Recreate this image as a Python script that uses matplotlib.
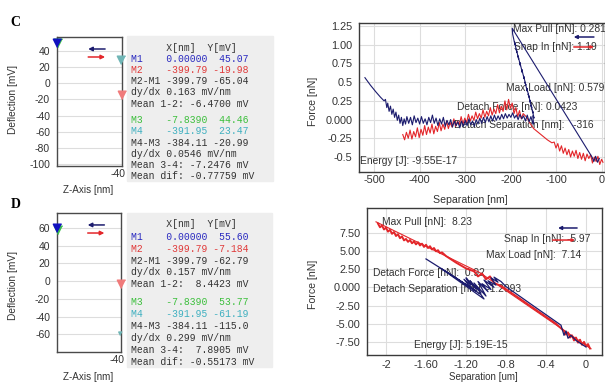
"""AFM deflection / force-separation panels C and D."""

import matplotlib
import matplotlib.pyplot as plt
from matplotlib.patches import Rectangle

matplotlib.use("Agg")
plt.rcParams["font.family"] = ["Liberation Sans", "DejaVu Sans"]

W, H = 605, 383
NAVY = "#1c1c6e"
RED = "#e3262a"
TXT = "#333333"
GRID = "#dddddd"
SPINE = "#4a4a4a"

# ---- left panels: cursor markers (x in nm, y in mV) ----
c_marker_x = [-7.839, -391.95, -399.79, 0.0]
c_marker_y = [44.46, 23.47, -19.98, 45.07]
d_marker_x = [-7.839, -391.95, -399.79, 0.0]
d_marker_y = [53.77, -61.19, -7.184, 55.60]
marker_colors = ["#3fbf4f", "#6fb5b5", "#f07a7a", "#1010c0"]

c_defl_ticks = [40, 20, 0, -20, -40, -60, -80, -100]
d_defl_ticks = [60, 40, 20, 0, -20, -40, -60]

c_table = [
    "      X[nm]  Y[mV]",
    "M1    0.00000  45.07",
    "M2    -399.79 -19.98",
    "M2-M1 -399.79 -65.04",
    "dy/dx 0.163 mV/nm",
    "Mean 1-2: -6.4700 mV",
    "M3    -7.8390  44.46",
    "M4    -391.95  23.47",
    "M4-M3 -384.11 -20.99",
    "dy/dx 0.0546 mV/nm",
    "Mean 3-4: -7.2476 mV",
    "Mean dif: -0.77759 mV",
]
d_table = [
    "      X[nm]  Y[mV]",
    "M1    0.00000  55.60",
    "M2    -399.79 -7.184",
    "M2-M1 -399.79 -62.79",
    "dy/dx 0.157 mV/nm",
    "Mean 1-2:  8.4423 mV",
    "M3    -7.8390  53.77",
    "M4    -391.95 -61.19",
    "M4-M3 -384.11 -115.0",
    "dy/dx 0.299 mV/nm",
    "Mean 3-4:  7.8905 mV",
    "Mean dif: -0.55173 mV",
]
table_colors = [TXT, "#2a2ac0", "#e03a3a", TXT, TXT, TXT,
                "#3cbf3c", "#3fb0c0", TXT, TXT, TXT, TXT]

# ---- panel C force curves (separation nm, force nN) ----
c_blue_x = [
    -520, -508, -496, -486, -478,
    -475, -472, -470, -467, -464, -461, -458, -455, -452, -449, -446, -443,
    -440, -437, -434, -431,
    -428, -424, -420, -416, -412, -408, -404, -400, -396, -392, -388, -384,
    -380, -376, -372, -368, -364, -360, -356, -352, -348, -344, -340, -336,
    -332, -328, -324, -320, -316, -312, -308, -304, -300, -296, -292, -288,
    -284, -280, -276, -272, -268, -264, -260, -256, -252, -248, -244, -240,
    -236, -232, -228, -224, -220, -216, -212, -208, -204, -200, -196, -192,
    -188, -184, -180, -176, -172, -168, -164, -160, -156, -152,
    -150, -152, -149, -153, -151, -156, -154, -159, -157, -162, -160, -165,
    -164, -169, -167, -172, -171, -176, -175, -180, -179, -184, -183, -188,
    -187, -192, -191, -196, -197,
    -22, -18, -14, -10, -6,
]
c_blue_y = [
    0.56, 0.46, 0.37, 0.30, 0.25,
    0.27, 0.16, 0.22, 0.11, 0.18, 0.07, 0.14, 0.03, 0.10, -0.01, 0.06, -0.05,
    0.03, -0.08, 0.01, -0.06,
    0.04, -0.05, 0.03, -0.07, 0.05, -0.04, 0.02, -0.06, 0.04, -0.05, 0.01, -0.07,
    0.03, -0.04, 0.06, -0.05, 0.02, -0.08, 0.01, -0.06, 0.03, -0.09, -0.01, -0.07,
    0.00, -0.10, -0.02, -0.08, -0.03, -0.11, -0.02, -0.09, -0.01, -0.08, 0.01, -0.07,
    -0.02, -0.09, 0.00, -0.06, 0.02, -0.05, 0.03, -0.04, 0.04, -0.03, 0.05, -0.02,
    0.06, -0.01, 0.05, 0.00, 0.07, 0.01, 0.08, 0.02, 0.07, 0.03, 0.09, 0.02,
    0.06, 0.00, 0.07, 0.01, 0.05, -0.02, 0.06, -0.03, 0.04, -0.05,
    -0.06, 0.05, 0.02, 0.12, 0.09, 0.19, 0.16, 0.26, 0.23, 0.34, 0.30, 0.42,
    0.38, 0.50, 0.46, 0.58, 0.55, 0.67, 0.63, 0.76, 0.72, 0.85, 0.81, 0.94,
    0.90, 1.04, 1.00, 1.14, 1.22,
    -0.50, -0.56, -0.49, -0.57, -0.52,
]
c_red_x = [
    -437, -433, -429, -425, -421, -417, -413, -409, -405, -401, -397, -393,
    -389, -385, -381, -377, -373, -369, -365, -361, -357, -353, -349, -345,
    -341, -337, -333, -329, -325, -321, -317, -313, -309, -305, -301, -297,
    -293, -289, -285, -281, -277, -273, -269, -265, -261, -257, -253, -249,
    -245, -241, -237, -233, -229, -225, -221, -217, -213, -209, -205, -201,
    -197, -193, -189, -185, -181, -177, -173,
    -165, -158, -150, -140, -130, -120, -110,
    -105, -101, -97, -93, -89, -85, -81, -77, -73, -69, -65, -61, -57, -53,
    -49, -45, -41, -37, -33, -29, -25, -21, -17, -13, -9, -5, -1, 2,
]
c_red_y = [
    -0.20, -0.27, -0.17, -0.25, -0.14, -0.26, -0.16, -0.23, -0.11, -0.24, -0.13, -0.21,
    -0.08, -0.20, -0.10, -0.18, -0.06, -0.19, -0.09, -0.16, -0.04, -0.15, -0.06, -0.13,
    -0.02, -0.12, -0.04, -0.10, 0.01, -0.09, -0.02, -0.07, 0.04, -0.06, 0.02, -0.04,
    0.07, -0.02, 0.05, -0.01, 0.10, 0.01, 0.08, 0.02, 0.13, 0.03, 0.11, 0.05,
    0.16, 0.06, 0.14, 0.08, 0.20, 0.09, 0.18, 0.11, 0.25, 0.13, 0.27, 0.15,
    0.22, 0.08, 0.16, 0.04, 0.12, 0.01, 0.08,
    0.03, -0.05, -0.12, -0.17, -0.22, -0.27, -0.31,
    -0.30, -0.38, -0.32, -0.42, -0.35, -0.45, -0.38, -0.47, -0.40, -0.50, -0.42, -0.49,
    -0.41, -0.52, -0.44, -0.53, -0.45, -0.55, -0.46, -0.52, -0.47, -0.58, -0.50, -0.56,
    -0.49, -0.60, -0.53, -0.57,
]
c_sep_ticks = [-500, -400, -300, -200, -100, 0]
c_force_ticks = [1.25, 1.00, 0.75, 0.5, 0.25, 0.0, -0.25, -0.5]
c_force_labels = ["1.25", "1.00", "0.75", "0.5", "0.25", "0.000", "-0.25", "-0.5"]

# ---- panel D force curves (separation um, force nN) ----
d_red_x = [
    -2.08, -2.06, -2.04, -2.02, -2.00, -1.98, -1.96, -1.94, -1.92, -1.90,
    -1.88, -1.86, -1.84, -1.82, -1.80, -1.78, -1.76, -1.74, -1.72, -1.70,
    -1.68, -1.66, -1.64, -1.62, -1.60, -1.58, -1.56, -1.54, -1.52, -1.50,
    -1.48, -1.46, -1.44,
    -1.40, -1.30, -1.20, -1.12, -1.08, -1.04, -1.00, -0.96, -0.92, -0.85,
    -0.70, -0.50, -0.30, -0.22,
    -0.20, -0.18, -0.16, -0.14, -0.12, -0.10, -0.08, -0.06, -0.04, -0.02,
    0.00, 0.02, 0.04,
]
d_red_y = [
    8.75, 8.25, 8.5, 7.95, 8.2, 7.65, 7.9, 7.35, 7.6, 7.05,
    7.3, 6.75, 7.0, 6.45, 6.65, 6.25, 6.5, 6.05, 6.3, 5.9,
    6.2, 5.75, 6.0, 5.55, 5.85, 5.4, 5.65, 5.2, 5.4, 4.95,
    5.1, 4.7, 4.8,
    4.3, 3.4, 2.6, 2.2, 1.5, 1.9, 1.1, 1.5, 0.6, 0.2,
    -1.2, -3.1, -5.0, -6.0,
    -6.5, -6.2, -6.9, -6.6, -7.3, -6.9, -7.6, -7.2, -7.9, -7.5,
    -8.1, -7.8, -8.4,
]
d_red_line_x = [-2.10, -1.06, 0.05]
d_red_line_y = [9.0, 2.0, -8.45]
d_blue_x = [
    -1.60, -1.30, -1.05, -1.02, -1.45, -1.10, -1.18, -1.22, -1.15, -1.20,
    -1.10, -1.16, -1.05, -1.12, -1.00, -1.08, -0.98, -1.04, -0.95, -1.02,
    -0.92, -0.98, -0.90, -0.95, -0.88, -0.92, -0.85, -0.80,
    -0.50, -0.25, -0.22, -0.20, -0.18, -0.15, -0.10, 0.00,
]
d_blue_y = [
    3.9, 1.3, -1.0, -1.6, 2.6, -0.5, 0.4, 1.1, 0.3, 1.3,
    -0.2, 0.9, -0.8, 0.6, -1.2, 0.8, -0.6, 0.5, -0.3, 1.0,
    0.0, 0.9, 0.3, 1.3, 0.7, 1.4, 0.8, 0.1,
    -2.8, -5.2, -6.6, -6.0, -7.0, -6.6, -7.3, -8.2,
]
d_sep_ticks = [-2.0, -1.6, -1.2, -0.8, -0.4, 0.0]
d_sep_labels = ["-2", "-1.60", "-1.20", "-0.8", "-0.4", "0"]
d_force_ticks = [7.5, 5.0, 2.5, 0.0, -2.5, -5.0, -7.5]
d_force_labels = ["7.50", "5.00", "2.50", "0.000", "-2.50", "-5.00", "-7.50"]

c_notes = [
    ("Max Pull [nN]: 0.281", 0.624, 0.960),
    ("Snap In [nN]: 1.19", 0.629, 0.839),
    ("Max Load [nN]: 0.579", 0.596, 0.564),
    ("Detach Force [nN]: 0.0423", 0.400, 0.436),
    ("Detach Separation [nm]:   -316", 0.385, 0.315),
    ("Energy [J]: -9.55E-17", 0.003, 0.074),
]
d_notes = [
    ("Max Pull [nN]:  8.23", 0.064, 0.905),
    ("Snap In [nN]: -5.97", 0.583, 0.789),
    ("Max Load [nN]:  7.14", 0.506, 0.680),
    ("Detach Force [nN]:  0.92", 0.026, 0.558),
    ("Detach Separation [nm]: -1.2093", 0.026, 0.449),
    ("Energy [J]: 5.19E-15", 0.200, 0.068),
]

# triangle whose tip sits on the data point
TIP = [(0, 0), (-0.6, 1.2), (0.6, 1.2)]


def rect(left, top, right, bottom):
    return [left / W, 1 - bottom / H, (right - left) / W, (bottom - top) / H]


def style_spines(ax, color=SPINE):
    for s in ax.spines.values():
        s.set_color(color)
        s.set_linewidth(1.0)


def arrow(ax, x0, x1, y, color, ms=6):
    ax.annotate("", xy=(x1, y), xytext=(x0, y), xycoords="axes fraction",
                arrowprops=dict(arrowstyle="-|>", color=color, lw=1.1,
                                mutation_scale=ms, shrinkA=0, shrinkB=0))


def deflection_panel(fig, box, ylim, ticks, mx, my, arrow_y, sizes):
    ax = fig.add_axes(rect(*box))
    ax.set_xlim(0, -400)
    ax.set_ylim(*ylim)
    ax.set_xticks([])
    ax.set_yticks(ticks)
    ax.set_yticklabels([str(t) for t in ticks])
    ax.tick_params(axis="y", length=0, pad=5, labelsize=7.5, labelcolor=TXT)
    ax.grid(True, axis="y", color=GRID, lw=0.8)
    ax.set_axisbelow(True)
    style_spines(ax)
    for x, y, c, s in zip(mx, my, marker_colors, sizes):
        ax.plot([x], [y], marker=TIP, ms=s, color=c, ls="none",
                clip_on=False, zorder=5)
    arrow(ax, 0.74, 0.48, arrow_y[0], NAVY)
    arrow(ax, 0.48, 0.74, arrow_y[1], RED)
    ax.text(1.06, -0.06, "-40", transform=ax.transAxes, ha="right",
            va="center", fontsize=7.5, color=TXT)
    return ax


def table(fig, box, rows, ys):
    l, t, r, b = box
    fig.patches.append(Rectangle((l / W, 1 - b / H), (r - l) / W, (b - t) / H,
                                 transform=fig.transFigure, color="#eeeeee",
                                 zorder=0))
    for line, y, c in zip(rows, ys, table_colors):
        fig.text(131 / W, 1 - y / H, line, family="Liberation Mono",
                 fontsize=7, color=c, va="center", ha="left")


def force_panel(fig, box, xlim, ylim, xticks, xlabels, yticks, ylabels, xpad):
    ax = fig.add_axes(rect(*box))
    ax.set_xlim(*xlim)
    ax.set_ylim(*ylim)
    ax.set_xticks(xticks)
    ax.set_xticklabels(xlabels)
    ax.set_yticks(yticks)
    ax.set_yticklabels(ylabels)
    ax.tick_params(length=0, labelsize=7.8, labelcolor=TXT)
    ax.tick_params(axis="x", pad=xpad)
    ax.tick_params(axis="y", pad=4.5)
    ax.grid(True, color=GRID, lw=0.8)
    ax.set_axisbelow(True)
    style_spines(ax, "#3a3a3a")
    return ax


def notes(ax, items):
    for s, x, y in items:
        ax.text(x, y, s, transform=ax.transAxes, fontsize=7.4, color=TXT,
                ha="left", va="center", zorder=1)


fig = plt.figure(figsize=(W / 100, H / 100), dpi=100)
fig.patch.set_facecolor("white")

# ---------------- panel C ----------------
fig.text(10 / W, 1 - 22 / H, "C", family="Liberation Serif",
         fontweight="bold", fontsize=10, va="center")
deflection_panel(fig, (57, 37, 122, 166), (-102.5, 57.4), c_defl_ticks,
                 c_marker_x, c_marker_y, (0.907, 0.845), (12, 12, 12, 12))
table(fig, (127, 36, 273, 181), c_table,
      [48, 59, 70, 81, 92, 104, 120, 131, 143, 154, 165, 176])
fig.text(13 / W, 1 - 99 / H, "Deflection [mV]", rotation=90, fontsize=7.3,
         color=TXT, ha="center", va="center")
fig.text(88 / W, 1 - 190 / H, "Z-Axis [nm]", fontsize=7.1, color=TXT,
         ha="center", va="center")

axc = force_panel(fig, (359, 23, 605, 172), (-533, 6.5), (-0.70, 1.29),
                  c_sep_ticks, [str(t) for t in c_sep_ticks],
                  c_force_ticks, c_force_labels, 2.5)
notes(axc, c_notes)
axc.plot(c_red_x, c_red_y, color=RED, lw=0.8, zorder=3)
axc.plot(c_blue_x, c_blue_y, color=NAVY, lw=0.8, zorder=4)
arrow(axc, 0.955, 0.873, 0.906, NAVY, ms=5)
arrow(axc, 0.873, 0.955, 0.839, RED, ms=4)
fig.text(313 / W, 1 - 101 / H, "Force [nN]", rotation=90, fontsize=7.6,
         color=TXT, ha="center", va="center")
fig.text(470 / W, 1 - 200 / H, "Separation [nm]", fontsize=7.6, color=TXT,
         ha="center", va="center")

# ---------------- panel D ----------------
fig.text(11 / W, 1 - 205 / H, "D", family="Liberation Serif",
         fontweight="bold", fontsize=10, va="center")
deflection_panel(fig, (57, 213, 121, 352), (-80, 77), d_defl_ticks,
                 d_marker_x, d_marker_y, (0.914, 0.856), (12, 5, 12, 12))
table(fig, (127, 213, 272, 367), d_table,
      [224, 237, 249, 261, 272, 284, 302, 314, 326, 338, 350, 362])
fig.text(13 / W, 1 - 286 / H, "Deflection [mV]", rotation=90, fontsize=7.3,
         color=TXT, ha="center", va="center")
fig.text(88 / W, 1 - 377 / H, "Z-Axis [nm]", fontsize=7.1, color=TXT,
         ha="center", va="center")

axd = force_panel(fig, (367, 208, 602, 355), (-2.19, 0.16), (-9.3, 10.9),
                  d_sep_ticks, d_sep_labels, d_force_ticks, d_force_labels, 3.5)
notes(axd, d_notes)
axd.plot(d_red_line_x, d_red_line_y, color=RED, lw=0.8, zorder=3)
axd.plot(d_red_x, d_red_y, color=RED, lw=1.4, zorder=3)
axd.plot(d_blue_x, d_blue_y, color=NAVY, lw=0.9, zorder=4)
arrow(axd, 0.894, 0.813, 0.864, NAVY, ms=5)
arrow(axd, 0.79, 0.885, 0.782, RED, ms=4)
fig.text(313 / W, 1 - 284 / H, "Force [nN]", rotation=90, fontsize=7.6,
         color=TXT, ha="center", va="center")
fig.text(483 / W, 1 - 377.5 / H, "Separation [um]", fontsize=7, color=TXT,
         ha="center", va="center")

fig.savefig("out.png", dpi=100)
